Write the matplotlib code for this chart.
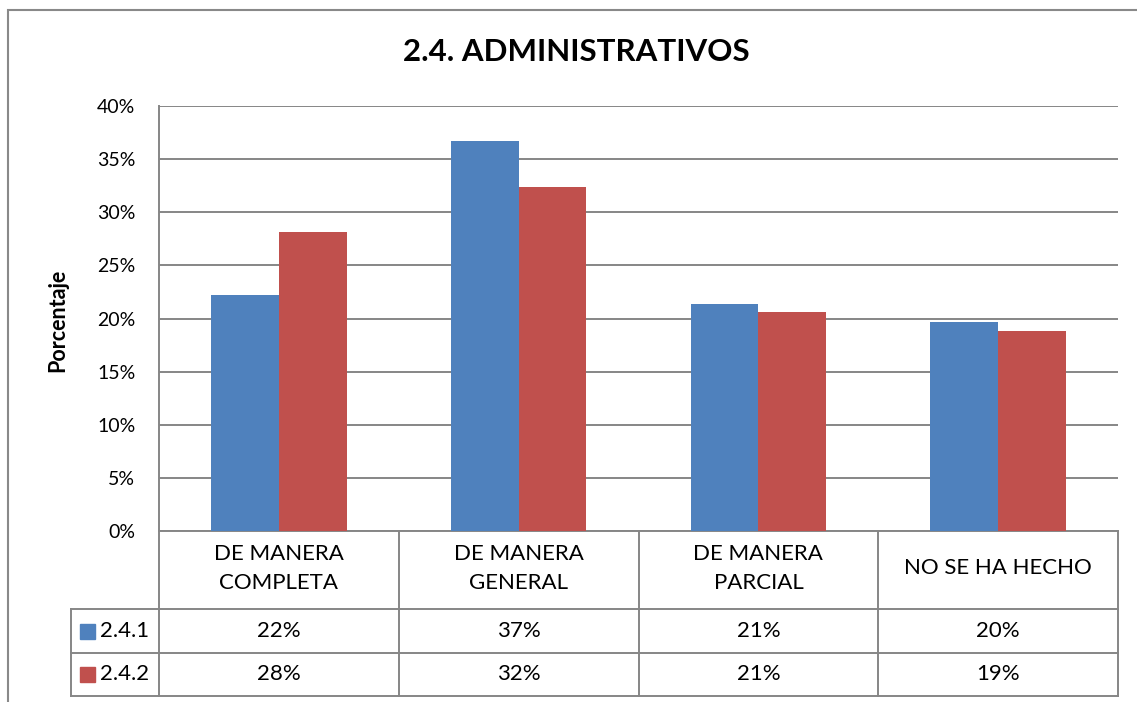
import matplotlib
matplotlib.use("Agg")
import matplotlib.pyplot as plt
import matplotlib.transforms as mtransforms
from matplotlib.patches import Rectangle
from matplotlib.lines import Line2D
import numpy as np

categories = ["DE MANERA\nCOMPLETA", "DE MANERA\nGENERAL", "DE MANERA\nPARCIAL", "NO SE HA HECHO"]
series_names = ["2.4.1", "2.4.2"]
s241 = [22.2, 36.7, 21.4, 19.7]
s242 = [28.1, 32.4, 20.6, 18.8]
yticks = [0, 5, 10, 15, 20, 25, 30, 35, 40]
title = "2.4. ADMINISTRATIVOS"
ylabel = "Porcentaje"

colors = ["#4F81BD", "#C0504D"]
grid_c = "#868686"
font = ["Lato", "DejaVu Sans"]
plt.rcParams["font.family"] = font

W, H = 1137, 702
fig = plt.figure(figsize=(W / 100, H / 100), dpi=100)
L, R, T, B = 159, 1118, 106, 531
ax = fig.add_axes([L / W, 1 - B / H, (R - L) / W, (B - T) / H])

x = np.arange(len(categories))
bw = 0.283
ax.bar(x - bw / 2, s241, bw, color=colors[0], zorder=3)
ax.bar(x + bw / 2, s242, bw, color=colors[1], zorder=3)
ax.set_xlim(-0.5, len(categories) - 0.5)
ax.set_ylim(0, 40)
ax.set_yticks(yticks)
ax.set_yticklabels([f"{v}%" for v in yticks], fontsize=14)
ax.tick_params(axis="y", length=0, pad=17)
ax.set_xticks([])
for v in yticks:
    ax.axhline(v, color=grid_c, lw=1.4, zorder=1)
for s in ["top", "right", "bottom"]:
    ax.spines[s].set_visible(False)
ax.spines["left"].set_color(grid_c)
ax.spines["left"].set_linewidth(1.4)

fig.text(58 / W, 1 - 320 / H, ylabel, rotation=90, ha="center", va="center",
         fontsize=15.5, fontweight="bold")
fig.text(576 / W, 1 - 52 / H, title, ha="center", va="center", fontsize=22.5, fontweight="bold")

# table
trans = mtransforms.blended_transform_factory(ax.transData, ax.transAxes)
ph = B - T
pw_per_cat = (R - L) / len(categories)
y_hdr = -(609 - B) / ph
y_r1 = -(653 - B) / ph
y_r2 = -(696 - B) / ph
x_left = -0.5 - (L - 71) / pw_per_cat
x_right = len(categories) - 0.5

def line(xs, ys):
    ax.add_line(Line2D(xs, ys, transform=trans, color=grid_c, lw=1.4, clip_on=False))

for b in np.arange(-0.5, len(categories), 1.0):
    line([b, b], [0, y_r2])
line([x_left, x_left], [y_hdr, y_r2])
line([-0.5, x_right], [0, 0])
line([x_left, x_right], [y_hdr, y_hdr])
line([x_left, x_right], [y_r1, y_r1])
line([x_left, x_right], [y_r2, y_r2])

tfs = 16
for i, c in enumerate(categories):
    ax.text(i, y_hdr / 2 + 0.004, c, transform=trans, ha="center", va="center",
            fontsize=tfs, linespacing=1.6, clip_on=False)

rows = [(y_hdr + y_r1) / 2, (y_r1 + y_r2) / 2]
for r, (vals, name, col) in enumerate(zip([s241, s242], series_names, colors)):
    yc = rows[r]
    for i, v in enumerate(vals):
        ax.text(i, yc, f"{round(v):d}%", transform=trans, ha="center", va="center",
                fontsize=tfs, clip_on=False)
    sq_w = 15 / pw_per_cat
    sq_h = 15 / ph
    ax.add_patch(Rectangle((x_left + 9 / pw_per_cat, yc - sq_h / 2), sq_w, sq_h,
                           transform=trans, color=col, clip_on=False))
    ax.text(x_left + 29 / pw_per_cat, yc, name, transform=trans, ha="left", va="center",
            fontsize=tfs, clip_on=False)

fig.add_artist(Rectangle((7.5 / W, -0.05), 1.2, 1 - 10 / H + 0.05, transform=fig.transFigure,
                         fill=False, edgecolor="#898989", lw=1.5))

fig.savefig("out.png", dpi=100)
